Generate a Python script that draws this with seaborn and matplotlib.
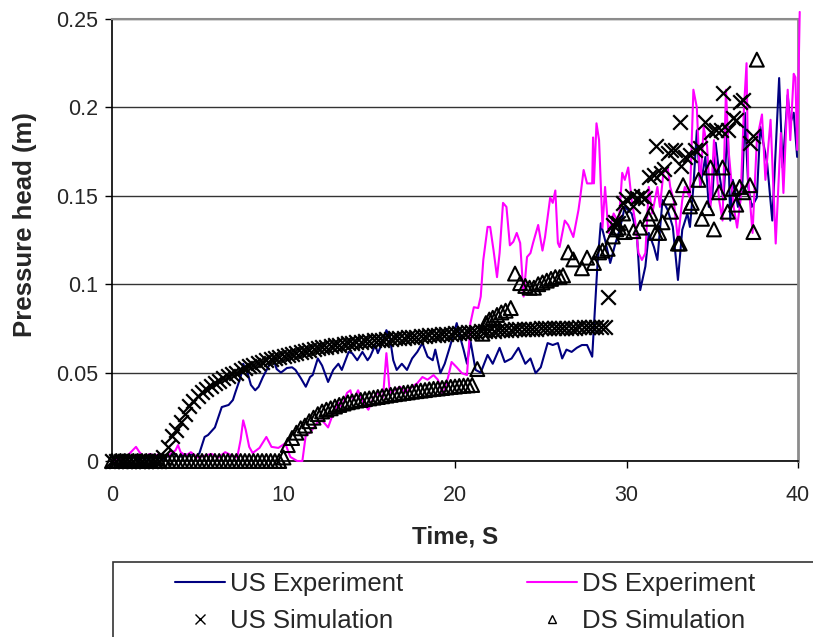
import numpy as np
import pandas as pd
import matplotlib
matplotlib.use("Agg")
import matplotlib.pyplot as plt
from matplotlib.lines import Line2D
from matplotlib.patches import Rectangle
import seaborn as sns

# ---------------- data ----------------
us_exp_t = [0.0, 0.3, 0.6, 0.9, 1.2, 1.5, 1.8, 2.1, 2.4, 2.7, 3.0, 3.3, 3.6, 3.9, 4.2, 4.5, 4.7, 4.9,
            5.1, 5.4, 5.6, 6.0, 6.4, 6.8, 7.05, 7.2, 7.5, 7.65, 7.9, 8.1, 8.35, 8.55, 8.8, 9.1, 9.4,
            9.6, 9.85, 10.2, 10.5, 10.7, 11.0, 11.3, 11.55, 11.7, 12.0, 12.25, 12.6, 12.9, 13.2, 13.4,
            13.8, 14.0, 14.3, 14.6, 14.9, 15.05, 15.35, 15.5, 15.75, 16.0, 16.2, 16.4, 16.6, 16.9,
            17.2, 17.5, 17.8, 18.1, 18.4, 18.7, 18.85, 19.15, 19.4, 19.7, 20.1, 20.3, 20.5, 20.7,
            20.9, 21.2, 21.5, 21.9, 22.2, 22.6, 22.9, 23.3, 23.7, 24.1, 24.4, 24.7, 25.0, 25.4,
            25.7, 26.0, 26.25, 26.5, 26.8, 27.1, 27.4, 27.7, 28.0, 28.3, 28.5, 28.75, 29.05, 29.35,
            29.6, 29.9, 30.3, 30.6, 30.8, 31.1, 31.3, 31.6, 31.8, 32.1, 32.4, 32.7, 32.85, 33.0,
            33.25, 33.55, 33.7, 33.9, 34.1, 34.3, 34.6, 34.8, 35.0, 35.2, 35.4, 35.65, 35.9, 36.05,
            36.2, 36.5, 36.75, 36.9, 37.1, 37.3, 37.6, 37.8, 38.2, 38.5, 38.9, 39.1, 39.4, 39.55,
            39.75, 39.95]
us_exp_h = [0.0, 0.001, 0.002, 0.001, 0.003, 0.001, 0.002, 0.001, 0.003, 0.002, 0.001, 0.003, 0.004,
            0.002, 0.004, 0.003, 0.004, 0.002, 0.0045, 0.0136, 0.0147, 0.019, 0.0305, 0.0317, 0.0345,
            0.039, 0.0475, 0.055, 0.050, 0.043, 0.040, 0.042, 0.0475, 0.053, 0.058, 0.052, 0.050,
            0.0526, 0.053, 0.0515, 0.047, 0.042, 0.0475, 0.0486, 0.058, 0.054, 0.0447, 0.0515, 0.055,
            0.0515, 0.0617, 0.061, 0.057, 0.0617, 0.057, 0.059, 0.0656, 0.061, 0.0667, 0.074, 0.070,
            0.057, 0.0515, 0.055, 0.0515, 0.058, 0.0617, 0.0667, 0.059, 0.057, 0.063, 0.0497, 0.055,
            0.0645, 0.078, 0.070, 0.063, 0.055, 0.068, 0.0515, 0.050, 0.060, 0.055, 0.064, 0.056,
            0.058, 0.064, 0.055, 0.058, 0.0497, 0.053, 0.0667, 0.0656, 0.0667, 0.058, 0.063, 0.0617,
            0.064, 0.0656, 0.0656, 0.059, 0.110, 0.1345, 0.125, 0.112, 0.123, 0.1307, 0.1437, 0.140,
            0.129, 0.0967, 0.110, 0.129, 0.121, 0.1137, 0.1476, 0.142, 0.1324, 0.1176, 0.1024,
            0.1307, 0.140, 0.1324, 0.155, 0.187, 0.155, 0.172, 0.1437, 0.149, 0.180, 0.163, 0.1476,
            0.189, 0.136, 0.159, 0.1437, 0.155, 0.197, 0.155, 0.1437, 0.149, 0.189, 0.1685, 0.136,
            0.2166, 0.166, 0.207, 0.191, 0.197, 0.172]

ds_exp_t = [0.0, 0.5, 0.9, 1.2, 1.4, 1.6, 1.9, 2.2, 2.5, 2.8, 3.1, 3.4, 3.7, 3.85, 4.0, 4.3, 4.6, 5.0,
            5.4, 5.8, 6.2, 6.6, 7.0, 7.3, 7.5, 7.65, 7.8, 8.0, 8.2, 8.6, 9.0, 9.3, 9.7, 9.95, 10.1,
            10.4, 10.8, 11.1, 11.3, 11.55, 11.95, 12.25, 12.6, 12.9, 13.2, 13.4, 13.7, 13.9, 14.05,
            14.35, 14.65, 14.95, 15.25, 15.5, 15.8, 16.0, 16.2, 16.5, 16.8, 17.1, 17.5, 17.8, 18.1,
            18.4, 18.75, 19.0, 19.3, 19.6, 19.8, 20.1, 20.4, 20.7, 20.9, 21.1, 21.35, 21.5, 21.65,
            21.9, 22.05, 22.25, 22.45, 22.6, 22.8, 23.0, 23.2, 23.4, 23.6, 23.8, 24.0, 24.2, 24.4,
            24.55, 24.85, 25.1, 25.25, 25.55, 25.7, 25.85, 26.0, 26.1, 26.4, 26.6, 26.9, 27.2, 27.3,
            27.5, 27.7, 28.0, 28.05, 28.1, 28.25, 28.4, 28.6, 28.75, 28.95, 29.25, 29.55, 29.75,
            29.9, 30.1, 30.3, 30.5, 30.7, 30.9, 31.1, 31.3, 31.5, 31.8, 31.95, 32.15, 32.4, 32.55,
            32.75, 33.0, 33.25, 33.4, 33.7, 33.9, 34.1, 34.3, 34.5, 34.7, 34.9, 35.1, 35.4, 35.6,
            35.8, 35.95, 36.25, 36.45, 36.65, 36.85, 37.0, 37.1, 37.35, 37.6, 37.9, 38.1, 38.4,
            38.7, 39.0, 39.15, 39.4, 39.55, 39.75, 39.85, 39.95, 40.1]
ds_exp_h = [0.0, 0.001, 0.003, 0.006, 0.008, 0.005, 0.002, 0.004, 0.003, 0.004, 0.002, 0.004, 0.006,
            0.009, 0.005, 0.003, 0.005, 0.002, 0.003, 0.004, 0.002, 0.005, 0.003, 0.002, 0.012,
            0.023, 0.0175, 0.008, 0.0045, 0.0074, 0.0136, 0.008, 0.0074, 0.009, 0.010, 0.0023, 0.0,
            0.0, 0.0147, 0.016, 0.0215, 0.023, 0.019, 0.027, 0.033, 0.0305, 0.0385, 0.040, 0.0345,
            0.040, 0.033, 0.029, 0.036, 0.0385, 0.036, 0.061, 0.0385, 0.040, 0.042, 0.0385, 0.042,
            0.044, 0.0475, 0.046, 0.0486, 0.046, 0.0373, 0.0475, 0.056, 0.053, 0.0497, 0.0486,
            0.078, 0.087, 0.0865, 0.093, 0.1137, 0.1324, 0.1324, 0.119, 0.104, 0.1176, 0.146, 0.1437,
            0.122, 0.124, 0.129, 0.1233, 0.093, 0.1154, 0.1176, 0.1233, 0.1335, 0.119, 0.1267, 0.149,
            0.146, 0.153, 0.1233, 0.121, 0.136, 0.1335, 0.1267, 0.142, 0.149, 0.1646, 0.157, 0.157,
            0.183, 0.157, 0.191, 0.1815, 0.132, 0.155, 0.129, 0.140, 0.1345, 0.163, 0.159, 0.166,
            0.1476, 0.136, 0.1176, 0.1137, 0.1176, 0.155, 0.140, 0.155, 0.1437, 0.163, 0.166, 0.155,
            0.1476, 0.125, 0.1476, 0.155, 0.149, 0.210, 0.200, 0.155, 0.189, 0.178, 0.1437, 0.1815,
            0.1476, 0.136, 0.210, 0.176, 0.1437, 0.132, 0.1476, 0.200, 0.225, 0.159, 0.129, 0.1815,
            0.196, 0.159, 0.193, 0.123, 0.1855, 0.1516, 0.210, 0.1815, 0.219, 0.217, 0.176, 0.254]

# US simulation: regular 0.25 s output up to 28.75 s, then scattered points
us_sim_step = 0.25
us_sim_h_regular = [0, 0, 0, 0, 0, 0, 0, 0, 0, 0, 0, 0, 0.002, 0.008, 0.014, 0.0175, 0.022, 0.0265,
                    0.031, 0.034, 0.0365, 0.039, 0.0405, 0.0425, 0.044, 0.0455, 0.047, 0.048, 0.049,
                    0.050, 0.0515, 0.0525, 0.0535, 0.0545, 0.0555, 0.0562, 0.057, 0.0575, 0.058,
                    0.0587, 0.0593, 0.0598, 0.0605, 0.061, 0.0617, 0.0623, 0.0628, 0.0633, 0.0638,
                    0.0643, 0.0647, 0.065, 0.0654, 0.0658, 0.0662, 0.0665, 0.0668, 0.0671, 0.0674,
                    0.0677, 0.068, 0.0682, 0.0685, 0.0687, 0.069, 0.0692, 0.0694, 0.0696, 0.0698,
                    0.070, 0.0702, 0.0704, 0.0706, 0.0708, 0.071, 0.0712, 0.0714, 0.0716, 0.0718,
                    0.072, 0.0722, 0.0724, 0.0726, 0.0728, 0.073, 0.0731, 0.0733, 0.0735, 0.0736,
                    0.0738, 0.0739, 0.074, 0.0742, 0.0743, 0.0744, 0.0745, 0.0746, 0.0747, 0.0748,
                    0.0749, 0.075, 0.0751, 0.0751, 0.0752, 0.0753, 0.0753, 0.0754, 0.0755, 0.0755,
                    0.0756, 0.0756, 0.0757, 0.0757, 0.0758, 0.0758, 0.0759]
us_sim_t_extra = [28.9, 29.2, 29.35, 29.5, 29.8, 29.95, 30.3, 30.4, 30.6, 30.85, 31.1, 31.3, 31.6,
                  31.7, 32.0, 32.2, 32.4, 32.6, 32.8, 33.1, 33.2, 33.4, 33.7, 34.0, 34.3, 34.6, 34.9,
                  35.2, 35.5, 35.6, 35.9, 36.2, 36.4, 36.6, 36.8, 37.2, 37.4]
us_sim_h_extra = [0.093, 0.1335, 0.135, 0.1345, 0.146, 0.148, 0.150, 0.144, 0.149, 0.150, 0.149,
                  0.1607, 0.162, 0.178, 0.163, 0.165, 0.174, 0.176, 0.176, 0.192, 0.167, 0.172, 0.173,
                  0.176, 0.177, 0.192, 0.186, 0.187, 0.187, 0.208, 0.187, 0.194, 0.193, 0.203, 0.204,
                  0.180, 0.184]

# DS simulation: regular 0.25 s output up to 21 s, then scattered points
ds_sim_step = 0.25
ds_sim_h_regular = [0] * 40 + [0.002, 0.009, 0.013, 0.016, 0.0185, 0.020, 0.0225, 0.0245, 0.0265,
                               0.028, 0.029, 0.0298, 0.0308, 0.0317, 0.0325, 0.0332, 0.0337, 0.0342,
                               0.0345, 0.035, 0.0354, 0.0358, 0.0362, 0.0366, 0.037, 0.0374, 0.0378,
                               0.0381, 0.0385, 0.0388, 0.0392, 0.0395, 0.0398, 0.0401, 0.0405,
                               0.0408, 0.041, 0.0413, 0.0416, 0.0419, 0.0421, 0.0424, 0.0426,
                               0.0428, 0.043]
ds_sim_t_extra = [21.3, 21.6, 21.8, 22.0, 22.2, 22.45, 22.7, 22.95, 23.25, 23.5, 23.8, 24.1, 24.35,
                  24.6, 24.85, 25.1, 25.35, 25.6, 25.85, 26.1, 26.3, 26.6, 26.9, 27.4, 27.7, 28.1,
                  28.4, 28.6, 28.9, 29.2, 29.4, 29.55, 29.8, 29.9, 30.4, 30.8, 31.3, 31.4, 31.7, 31.9,
                  32.1, 32.5, 32.6, 33.0, 33.1, 33.3, 33.7, 33.8, 34.2, 34.4, 34.7, 34.9, 35.1, 35.4,
                  35.6, 35.9, 36.2, 36.4, 36.6, 36.8, 37.2, 37.4, 37.6]
ds_sim_h_extra = [0.052, 0.072, 0.078, 0.080, 0.081, 0.0826, 0.084, 0.085, 0.0865, 0.106, 0.1006,
                  0.099, 0.098, 0.098, 0.100, 0.101, 0.102, 0.103, 0.104, 0.104, 0.105, 0.118, 0.114,
                  0.109, 0.115, 0.112, 0.118, 0.119, 0.120, 0.127, 0.131, 0.132, 0.140, 0.1295, 0.130,
                  0.132, 0.137, 0.140, 0.129, 0.129, 0.135, 0.149, 0.141, 0.123, 0.123, 0.156, 0.144,
                  0.146, 0.159, 0.137, 0.143, 0.166, 0.131, 0.152, 0.166, 0.141, 0.154, 0.145, 0.155,
                  0.152, 0.156, 0.1295, 0.227]

x_ticks = [0, 10, 20, 30, 40]
x_tick_labels = ["0", "10", "20", "30", "40"]
y_ticks = [0, 0.05, 0.1, 0.15, 0.2, 0.25]
y_tick_labels = ["0", "0.05", "0.1", "0.15", "0.2", "0.25"]
series_names = ["US Experiment", "DS Experiment", "US Simulation", "DS Simulation"]

# ---------------- build tables ----------------
us_sim_t = list(np.round(np.arange(len(us_sim_h_regular)) * us_sim_step, 3)) + us_sim_t_extra
us_sim_h = us_sim_h_regular + us_sim_h_extra
ds_sim_t = list(np.round(np.arange(len(ds_sim_h_regular)) * ds_sim_step, 3)) + ds_sim_t_extra
ds_sim_h = ds_sim_h_regular + ds_sim_h_extra

df_us_exp = pd.DataFrame({"t": us_exp_t, "h": us_exp_h})
df_ds_exp = pd.DataFrame({"t": ds_exp_t, "h": ds_exp_h})
df_us_sim = pd.DataFrame({"t": us_sim_t, "h": us_sim_h})
df_ds_sim = pd.DataFrame({"t": ds_sim_t, "h": ds_sim_h})

# ---------------- style ----------------
sns.set_style("white")
plt.rcParams["font.family"] = ["Liberation Sans", "DejaVu Sans"]

W, H = 813, 637
fig = plt.figure(figsize=(W / 100, H / 100), dpi=100)
ax_l, ax_r, ax_t, ax_b = 112, 798, 19, 461
ax = fig.add_axes([ax_l / W, 1 - ax_b / H, (ax_r - ax_l) / W, (ax_b - ax_t) / H])

NAVY = "#000080"
MAGENTA = "#FF00FF"

sns.lineplot(data=df_us_exp, x="t", y="h", ax=ax, color=NAVY, lw=1.5,
             estimator=None, sort=False, zorder=3)
sns.lineplot(data=df_ds_exp, x="t", y="h", ax=ax, color=MAGENTA, lw=1.5,
             estimator=None, sort=False, zorder=4)
ax.lines[-1].set_clip_on(False)
sns.scatterplot(data=df_us_sim, x="t", y="h", ax=ax, marker="x", color="black",
                s=110, linewidth=1.6, zorder=5)
sns.scatterplot(data=df_ds_sim, x="t", y="h", ax=ax, marker="^", color="black",
                s=100, linewidth=1.5, zorder=6)
ax.collections[-1].set_facecolor("none")
ax.collections[-1].set_edgecolor("black")
for c in ax.collections:
    c.set_clip_on(False)

ax.set_xlim(0, 40)
ax.set_ylim(0, 0.25)
ax.set_xticks(x_ticks)
ax.set_xticklabels(x_tick_labels)
ax.set_yticks(y_ticks)
ax.set_yticklabels(y_tick_labels)
ax.yaxis.grid(True, color="#333333", lw=1.0)
ax.xaxis.grid(False)
ax.set_axisbelow(True)

for side in ["left", "bottom"]:
    ax.spines[side].set_color("black")
    ax.spines[side].set_linewidth(1.2)
ax.spines["top"].set_color("#8c8c8c")
ax.spines["top"].set_linewidth(1.5)
ax.spines["right"].set_color("#8c8c8c")
ax.spines["right"].set_linewidth(2.0)

ax.tick_params(axis="both", which="major", direction="out", length=5, width=1,
               color="black", labelsize=15.5, bottom=True, left=True)
ax.tick_params(axis="x", pad=12)
ax.tick_params(axis="y", pad=5)

ax.set_xlabel("Time, S", fontsize=17.5, fontweight="bold", va="center", ha="center")
ax.xaxis.set_label_coords(0.5, (ax_b - 537) / (ax_b - ax_t))
ax.set_ylabel("Pressure head (m)", fontsize=18.5, fontweight="bold", va="center", ha="center")
ax.yaxis.set_label_coords((25 - ax_l) / (ax_r - ax_l), (ax_b - 225) / (ax_b - ax_t))

# ---------------- legend ----------------
h_us_exp = Line2D([], [], color=NAVY, lw=1.5)
h_ds_exp = Line2D([], [], color=MAGENTA, lw=1.5)
h_us_sim = Line2D([], [], color="black", marker="x", ls="none", ms=6.5, mew=1.0)
h_ds_sim = Line2D([], [], color="black", marker="^", ls="none", ms=6, mew=1.0,
                  markerfacecolor="none")

leg_kw = dict(loc="upper left", frameon=False, fontsize=18.5, handlelength=1.95,
              handletextpad=0.2, labelspacing=0.52, borderpad=0, borderaxespad=0)
fig.legend([h_us_exp, h_us_sim], [series_names[0], series_names[2]],
           bbox_to_anchor=(175 / W, 1 - 572 / H), **leg_kw)
fig.legend([h_ds_exp, h_ds_sim], [series_names[1], series_names[3]],
           bbox_to_anchor=(527 / W, 1 - 572 / H), **leg_kw)

fig.add_artist(Rectangle((113 / W, -0.1), (840 - 113) / W, (1 - 562 / H) + 0.1,
                         transform=fig.transFigure, fill=False, edgecolor="#333333",
                         lw=1.2, zorder=0))

fig.savefig("out.png", dpi=100)
